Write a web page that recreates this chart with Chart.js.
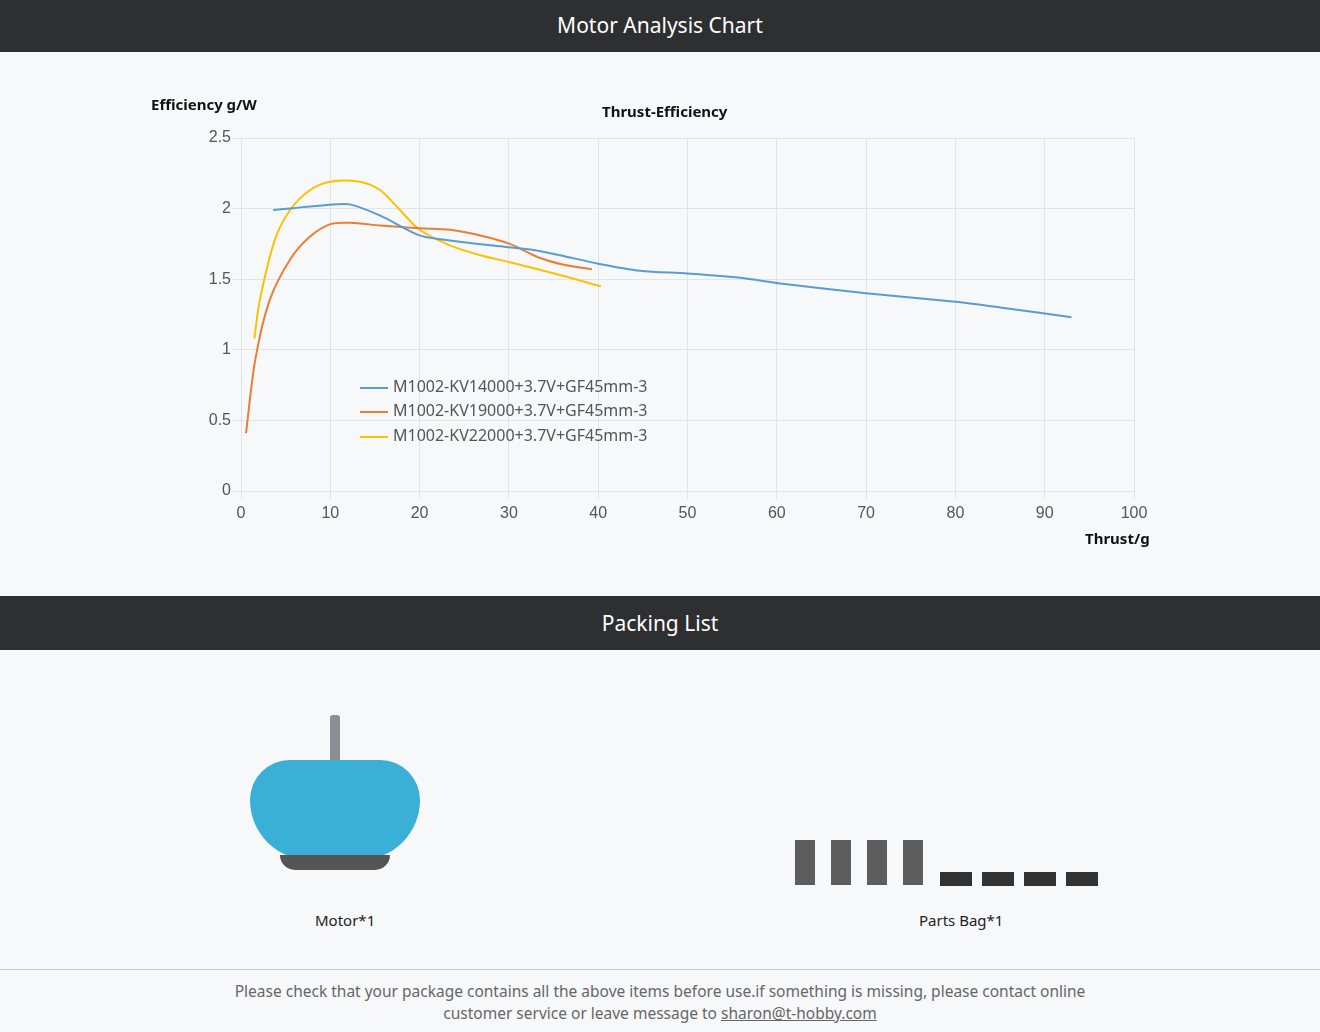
<!DOCTYPE html>
<html><head><meta charset="utf-8">
<script src="https://cdn.jsdelivr.net/npm/chart.js@4"></script>
<style>
body{margin:0;width:1320px;height:1032px;background:#f7f8fa;font-family:"Noto Sans","Open Sans",sans-serif;position:relative;overflow:hidden}
.bar{position:absolute;left:0;width:1320px;background:#2e2f31;color:#fff;text-align:center;font-size:21px}
.abs{position:absolute;white-space:nowrap}
#wrap{position:absolute;left:0;top:52px;width:1320px;height:544px}
.lg{position:absolute;left:360px;font-size:16px;color:#555}
.lg i{display:inline-block;width:28px;height:2px;vertical-align:middle;margin-right:5px}
</style></head><body>
<div class="bar" style="top:0;height:52px;line-height:50px">Motor Analysis Chart</div>
<div id="wrap"><canvas id="c"></canvas></div>
<div class="abs" style="left:151px;top:94px;font-size:15px;font-weight:bold;color:#111">Efficiency g/W</div>
<div class="abs" style="left:602px;top:101px;font-size:15px;font-weight:bold;color:#111">Thrust-Efficiency</div>
<div class="abs" style="left:1085px;top:528px;font-size:15px;font-weight:bold;color:#111">Thrust/g</div>
<div class="lg" style="top:375px"><i style="background:#5b9bd5"></i>M1002-KV14000+3.7V+GF45mm-3</div>
<div class="lg" style="top:399px"><i style="background:#ed7d31"></i>M1002-KV19000+3.7V+GF45mm-3</div>
<div class="lg" style="top:424px"><i style="background:#ffc000"></i>M1002-KV22000+3.7V+GF45mm-3</div>
<div class="bar" style="top:596px;height:54px;line-height:54px">Packing List</div>
<div class="abs" style="left:250px;top:715px;width:170px;height:160px">
  <div style="position:absolute;left:80px;top:0;width:10px;height:50px;background:#8a8f95;border-radius:3px"></div>
  <div style="position:absolute;left:0;top:45px;width:170px;height:100px;background:#3bb0d6;border-radius:40px 40px 60px 60px"></div>
  <div style="position:absolute;left:30px;top:140px;width:110px;height:15px;background:#555;border-radius:0 0 30px 30px"></div>
</div>
<div class="abs" style="left:315px;top:910px;font-size:15px;color:#222">Motor*1</div>
<div class="abs" style="left:795px;top:840px;width:310px;height:50px">
  <div style="position:absolute;left:0;top:0;width:140px;height:45px;background:repeating-linear-gradient(90deg,#5d5d5d 0 20px,transparent 20px 36px)"></div>
  <div style="position:absolute;left:145px;top:32px;width:165px;height:14px;background:repeating-linear-gradient(90deg,#333 0 32px,transparent 32px 42px)"></div>
</div>
<div class="abs" style="left:919px;top:910px;font-size:15px;color:#222">Parts Bag*1</div>
<div style="position:absolute;left:0;top:969px;width:1320px;border-top:1px solid #ccc"></div>
<div class="abs" style="left:0;top:980px;width:1320px;text-align:center;font-size:15.5px;color:#666;line-height:22px;white-space:normal">Please check that your package contains all the above items before use.if something is missing, please contact online<br>customer service or leave message to <u>sharon@t-hobby.com</u></div>
<script>
const xTicks = [0, 10, 20, 30, 40, 50, 60, 70, 80, 90, 100];
const yTicks = [0, 0.5, 1, 1.5, 2, 2.5];
const names = ['M1002-KV14000+3.7V+GF45mm-3', 'M1002-KV19000+3.7V+GF45mm-3', 'M1002-KV22000+3.7V+GF45mm-3'];
const colors = ['#5b9bd5', '#ed7d31', '#ffc000'];
const kv14x = [3.6, 10.7, 12.2, 15.6, 20, 22.8, 27.9, 32.4, 35.7, 40, 44.7, 50, 55.9, 60.4, 70, 80, 85, 93];
const kv14y = [1.99, 2.03, 2.03, 1.95, 1.81, 1.78, 1.74, 1.71, 1.67, 1.61, 1.56, 1.54, 1.51, 1.47, 1.40, 1.34, 1.30, 1.23];
const kv19x = [0.56, 1.6, 3.2, 5.5, 7.7, 10, 12.2, 15.6, 20, 23.4, 26.8, 30.1, 33.5, 36.3, 39.3];
const kv19y = [0.41, 0.93, 1.35, 1.64, 1.80, 1.89, 1.90, 1.88, 1.86, 1.85, 1.81, 1.75, 1.65, 1.60, 1.57];
const kv22x = [1.5, 2.1, 3.8, 5.5, 7.7, 10, 13.3, 15.6, 17.8, 20, 23.4, 26.8, 30.1, 35.7, 40.3];
const kv22y = [1.08, 1.35, 1.78, 1.99, 2.13, 2.19, 2.19, 2.13, 1.99, 1.85, 1.74, 1.67, 1.62, 1.53, 1.45];

const pts = (xs, ys) => xs.map((x, i) => ({x: x, y: ys[i]}));
const series = [pts(kv14x, kv14y), pts(kv19x, kv19y), pts(kv22x, kv22y)];

new Chart(document.getElementById('c'), {
  type: 'scatter',
  data: {
    datasets: series.map((d, i) => ({
      label: names[i], data: d, showLine: true, borderColor: colors[i],
      borderWidth: 2, pointRadius: 0, tension: 0.3
    }))
  },
  options: {
    responsive: true, maintainAspectRatio: false, animation: false,
    layout: {padding: {left: 190, right: 186, top: 86, bottom: 75}},
    plugins: {legend: {display: false}, tooltip: {enabled: false}},
    scales: {
      x: {
        type: 'linear', min: 0, max: 100,
        afterBuildTicks: s => { s.ticks = xTicks.map(v => ({value: v})); },
        afterFit: s => { s.height = 30; },
        grid: {color: '#e3e3e3'}, border: {color: '#e3e3e3'},
        ticks: {color: '#555', font: {size: 16}, padding: 5}
      },
      y: {
        min: 0, max: 2.5,
        afterBuildTicks: s => { s.ticks = yTicks.map(v => ({value: v})); },
        afterFit: s => { s.width = 51; },
        grid: {color: '#e3e3e3'}, border: {color: '#e3e3e3'},
        ticks: {color: '#555', font: {size: 16}, padding: 2, callback: v => String(v)}
      }
    }
  }
});
</script>
</body></html>
